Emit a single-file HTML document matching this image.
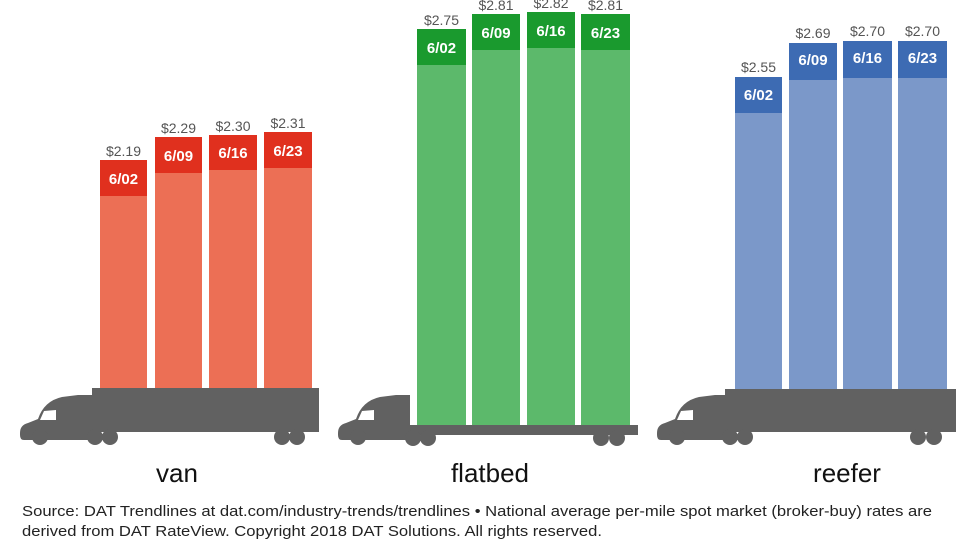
<!DOCTYPE html>
<html><head><meta charset="utf-8"><style>
html,body{margin:0;padding:0;background:#fff;}
svg{display:block;}
text{font-family:"Liberation Sans",sans-serif;}
</style></head><body>
<svg width="980" height="552" viewBox="0 0 980 552" xmlns="http://www.w3.org/2000/svg">
<defs>
<g id="cab">
<path d="M0,38 Q0,30 8,28 L18,24 Q24,6 42,2 L58,0 L72,0 L72,40 L70,45 L4,45 Q0,45 0,40 Z" fill="#616161"/>
<path d="M20,25 L24,16 L36,15 L36,25 Z" fill="#fff"/>
</g>
</defs>
<!-- VAN -->
<g>
<rect x="100" y="160" width="47" height="228" fill="#ec6f55"/>
<rect x="100" y="160" width="47" height="36" fill="#e0301e"/>
<rect x="155" y="137" width="47" height="251" fill="#ec6f55"/>
<rect x="155" y="137" width="47" height="36" fill="#e0301e"/>
<rect x="209" y="135" width="48" height="253" fill="#ec6f55"/>
<rect x="209" y="135" width="48" height="35" fill="#e0301e"/>
<rect x="264" y="132" width="48" height="256" fill="#ec6f55"/>
<rect x="264" y="132" width="48" height="36" fill="#e0301e"/>
<g fill="#fff" font-weight="bold" font-size="15" text-anchor="middle">
<text x="123.5" y="184">6/02</text><text x="178.5" y="161">6/09</text><text x="233" y="158">6/16</text><text x="288" y="156">6/23</text></g>
<g fill="#555" font-size="14" text-anchor="middle">
<text x="123.5" y="156">$2.19</text><text x="178.5" y="133">$2.29</text><text x="233" y="131">$2.30</text><text x="288" y="128">$2.31</text></g>
<rect x="92" y="388" width="227" height="44" fill="#616161"/>
<use href="#cab" x="20" y="395"/>
<rect x="80" y="420" width="20" height="12" fill="#616161"/>
<g fill="#616161"><circle cx="95" cy="437" r="8"/><circle cx="110" cy="437" r="8"/><circle cx="282" cy="437" r="8"/><circle cx="297" cy="437" r="8"/><circle cx="40" cy="437" r="8"/></g>
<text x="177" y="482" font-size="26" fill="#111" text-anchor="middle">van</text>
</g>
<!-- FLATBED -->
<g>
<rect x="417" y="29" width="49" height="396" fill="#5cb96b"/>
<rect x="417" y="29" width="49" height="36" fill="#1a9a2e"/>
<rect x="472" y="14" width="48" height="411" fill="#5cb96b"/>
<rect x="472" y="14" width="48" height="36" fill="#1a9a2e"/>
<rect x="527" y="12" width="48" height="413" fill="#5cb96b"/>
<rect x="527" y="12" width="48" height="36" fill="#1a9a2e"/>
<rect x="581" y="14" width="49" height="411" fill="#5cb96b"/>
<rect x="581" y="14" width="49" height="36" fill="#1a9a2e"/>
<g fill="#fff" font-weight="bold" font-size="15" text-anchor="middle">
<text x="441.5" y="53">6/02</text><text x="496" y="38">6/09</text><text x="551" y="36">6/16</text><text x="605.5" y="38">6/23</text></g>
<g fill="#555" font-size="14" text-anchor="middle">
<text x="441.5" y="25">$2.75</text><text x="496" y="10">$2.81</text><text x="551" y="8">$2.82</text><text x="605.5" y="10">$2.81</text></g>
<rect x="408" y="425" width="230" height="10" fill="#616161"/>
<use href="#cab" x="338" y="395"/>
<g fill="#616161"><circle cx="413" cy="438" r="8"/><circle cx="428" cy="438" r="8"/><circle cx="601" cy="438" r="8"/><circle cx="617" cy="438" r="8"/><circle cx="358" cy="437" r="8"/></g>
<text x="490" y="482" font-size="26" fill="#111" text-anchor="middle">flatbed</text>
</g>
<!-- REEFER -->
<g>
<rect x="735" y="77" width="47" height="312" fill="#7b98c9"/>
<rect x="735" y="77" width="47" height="36" fill="#3d6bb3"/>
<rect x="789" y="43" width="48" height="346" fill="#7b98c9"/>
<rect x="789" y="43" width="48" height="37" fill="#3d6bb3"/>
<rect x="843" y="41" width="49" height="348" fill="#7b98c9"/>
<rect x="843" y="41" width="49" height="37" fill="#3d6bb3"/>
<rect x="898" y="41" width="49" height="348" fill="#7b98c9"/>
<rect x="898" y="41" width="49" height="37" fill="#3d6bb3"/>
<g fill="#fff" font-weight="bold" font-size="15" text-anchor="middle">
<text x="758.5" y="100">6/02</text><text x="813" y="65">6/09</text><text x="867.5" y="63">6/16</text><text x="922.5" y="63">6/23</text></g>
<g fill="#555" font-size="14" text-anchor="middle">
<text x="758.5" y="72">$2.55</text><text x="813" y="38">$2.69</text><text x="867.5" y="36">$2.70</text><text x="922.5" y="36">$2.70</text></g>
<rect x="725" y="389" width="231" height="43" fill="#616161"/>
<use href="#cab" x="657" y="395"/>
<rect x="715" y="420" width="20" height="12" fill="#616161"/>
<g fill="#616161"><circle cx="730" cy="437" r="8"/><circle cx="745" cy="437" r="8"/><circle cx="918" cy="437" r="8"/><circle cx="934" cy="437" r="8"/><circle cx="677" cy="437" r="8"/></g>
<text x="847" y="482" font-size="26" fill="#111" text-anchor="middle">reefer</text>
</g>
<text x="22" y="516" font-size="15" fill="#222" textLength="910" lengthAdjust="spacingAndGlyphs">Source: DAT Trendlines at dat.com/industry-trends/trendlines • National average per-mile spot market (broker-buy) rates are</text>
<text x="22" y="536" font-size="15" fill="#222" textLength="580" lengthAdjust="spacingAndGlyphs">derived from DAT RateView. Copyright 2018 DAT Solutions. All rights reserved.</text>
</svg>
</body></html>
